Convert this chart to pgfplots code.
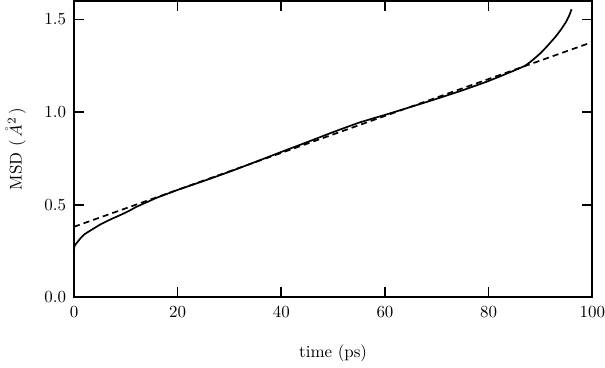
\documentclass[border=0pt]{standalone}
\usepackage{pgfplots}
\pgfplotsset{compat=1.18}
\begin{document}
\begin{tikzpicture}
\begin{axis}[
  scale only axis, width=306pt, height=175pt,
  xmin=0, xmax=100, ymin=0, ymax=1.6,
  xtick={0,20,40,60,80,100}, ytick={0,0.5,1,1.5},
  yticklabel style={/pgf/number format/fixed,/pgf/number format/fixed zerofill,/pgf/number format/precision=1, xshift=-1.2pt},
  tick align=inside, major tick length=5.9pt,
  axis line style={line width=1.1pt},
  every tick/.style={black, line width=1pt},
  xticklabel style={yshift=-2pt, inner xsep=0pt},
  xlabel={time (ps)}, ylabel={MSD ($\,\mathring{A}^{2}\,$)},
  xlabel style={yshift=-9pt},
  ylabel style={yshift=4pt},
]
\addplot[black, line width=1pt, smooth, tension=0.25] coordinates {
(0,0) (0.02,0.26) (0.3,0.285) (0.7,0.30) (1.3,0.32) (2,0.34) (3.3,0.363) (5,0.392) (7,0.42) (9,0.445) (10.5,0.465) (12,0.488) (14,0.513) (16,0.538) (18,0.559) (20,0.58) (25,0.628) (30,0.678) (35,0.731) (40,0.785) (45,0.838) (50,0.892) (55,0.943) (60,0.985) (65,1.028) (70,1.072) (75,1.118) (80,1.168) (85,1.225) (87,1.25) (88,1.27) (89,1.293) (90,1.318) (91,1.347) (92,1.378) (93,1.41) (94,1.447) (95,1.49) (95.6,1.525) (96,1.555)
};
\addplot[black, line width=1pt, dash pattern=on 3.6pt off 2.4pt] coordinates {
(0,0.381) (100,1.378)
};
\end{axis}
\end{tikzpicture}
\end{document}
